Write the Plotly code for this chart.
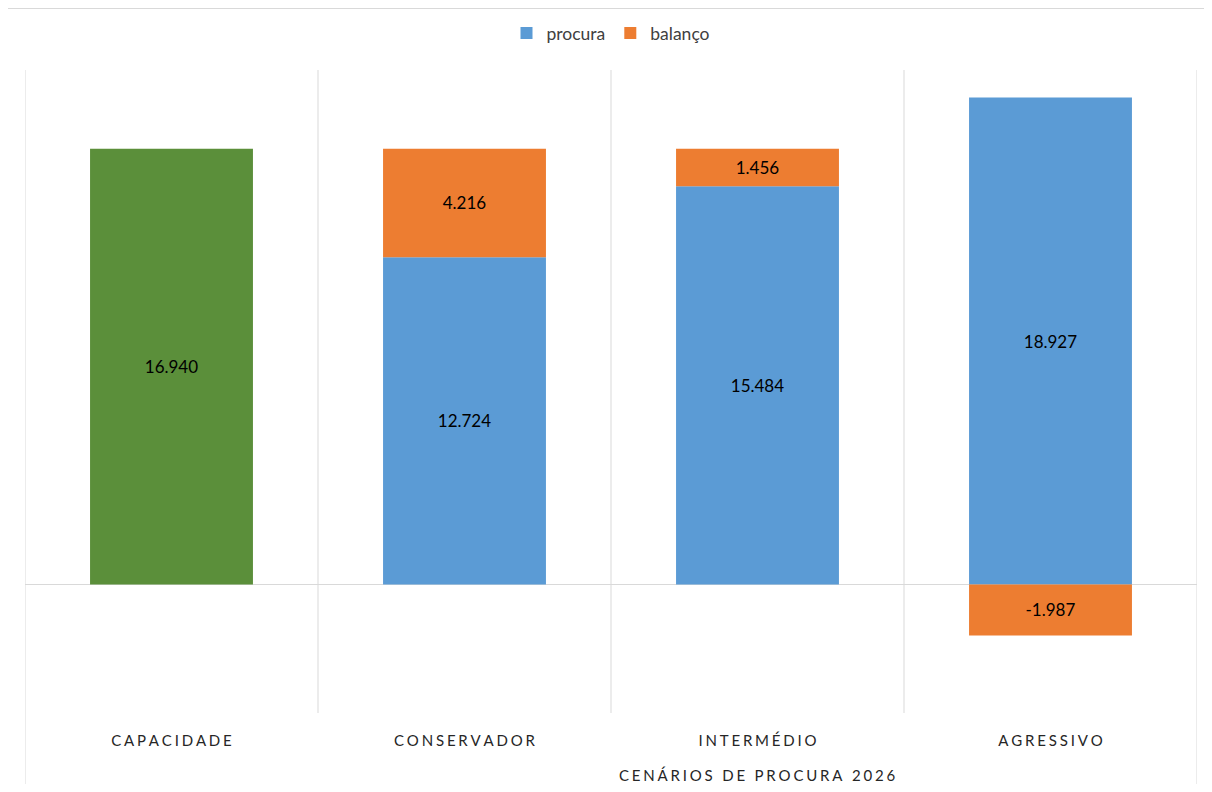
import plotly.graph_objects as go

# categories and values (thousands)
categories = ["CAPACIDADE", "CONSERVADOR", "INTERMÉDIO", "AGRESSIVO"]
capacidade = [16940, None, None, None]
procura = [None, 12724, 15484, 18927]
balanco = [None, 4216, 1456, -1987]
axis_title = "CENÁRIOS DE PROCURA 2026"

GREEN = "#5B8F3A"
BLUE = "#5B9BD5"
ORANGE = "#ED7D31"
GRID = "#D9D9D9"
FONT = "Lato"


def spaced(s):
    # imitate the letter spacing of the category labels
    return "\u2009\u200a".join(s)


labels = [spaced(c) for c in categories]

fig = go.Figure()
txt = dict(texttemplate="%{y:,.0f}", textposition="inside", insidetextanchor="middle",
           textangle=0, textfont=dict(family=FONT, size=17, color="#000000"),
           constraintext="none")
fig.add_trace(go.Bar(x=labels, y=capacidade, name="capacidade", marker_color=GREEN,
                     showlegend=False, marker_line_width=0, **txt))
fig.add_trace(go.Bar(x=labels, y=procura, name="procura", marker_color=BLUE,
                     marker_line_width=0, **txt))
fig.add_trace(go.Bar(x=labels, y=balanco, name="balanço", marker_color=ORANGE,
                     marker_line_width=0, **txt))

# category separators; the outer two reach further down
shapes = []
for i in range(len(categories) + 1):
    outer = i in (0, len(categories))
    shapes.append(dict(type="line", xref="x", yref="paper", x0=i - 0.5, x1=i - 0.5,
                       y0=1, y1=-0.125 if outer else 0,
                       line=dict(color=GRID, width=1), layer="below"))
# chart border
shapes.append(dict(type="rect", xref="paper", yref="paper", x0=-0.0154, x1=1.05,
                   y0=-0.2, y1=1.096, line=dict(color=GRID, width=1.5), layer="below"))

fig.update_layout(
    width=1196, height=776,
    margin=dict(l=17, r=7, t=62, b=71),
    paper_bgcolor="white", plot_bgcolor="white",
    barmode="relative", bargap=0.444,
    separators=",.",
    font=dict(family=FONT, color="#404040"),
    legend=dict(orientation="h", x=0.5, xanchor="center", y=1.0575, yanchor="middle",
                font=dict(family=FONT, size=17.5, color="#404040"), traceorder="normal",
                itemwidth=30),
    xaxis=dict(range=[-0.5, 3.5], showgrid=False, zeroline=False, showline=False,
               ticks="", ticklabelstandoff=17,
               tickfont=dict(family=FONT, size=15, color="#262626")),
    yaxis=dict(range=[-5000, 20000], showgrid=False, showticklabels=False,
               zeroline=True, zerolinecolor=GRID, zerolinewidth=1, ticks=""),
    shapes=shapes,
    annotations=[dict(text=spaced(axis_title), xref="paper", yref="paper",
                      x=0.6246, y=-0.0964, xanchor="center", yanchor="middle",
                      showarrow=False, font=dict(family=FONT, size=15, color="#262626"))],
)

fig.write_html("out.html")
